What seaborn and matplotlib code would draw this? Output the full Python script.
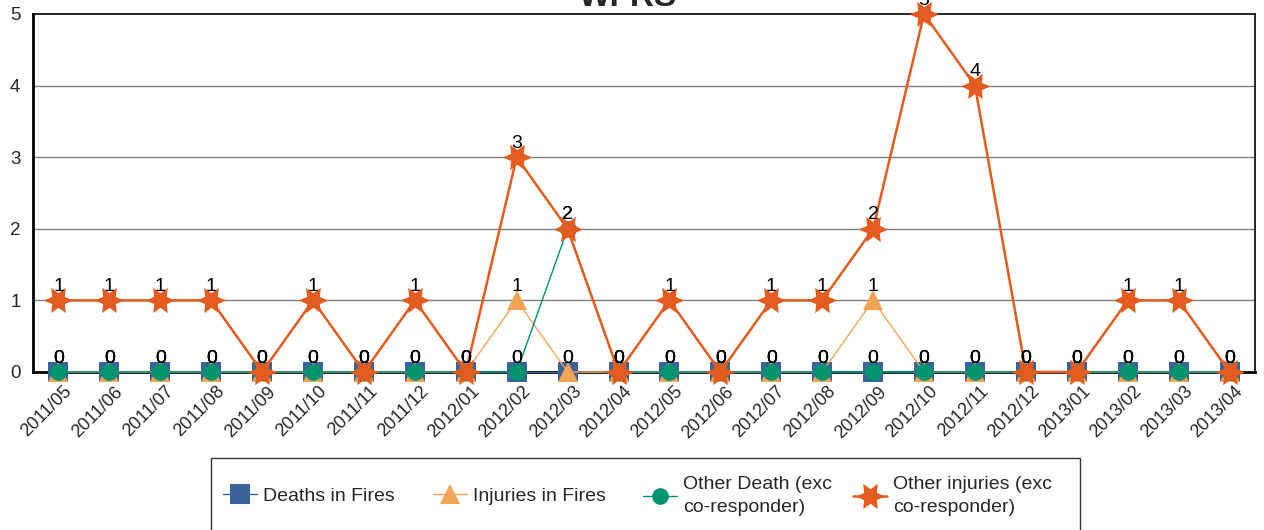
import matplotlib
matplotlib.use("Agg")
import matplotlib.pyplot as plt
import matplotlib.transforms as mtransforms
from matplotlib.patches import Rectangle
from matplotlib.lines import Line2D
import seaborn as sns

months = ["2011/05", "2011/06", "2011/07", "2011/08", "2011/09", "2011/10", "2011/11", "2011/12",
          "2012/01", "2012/02", "2012/03", "2012/04", "2012/05", "2012/06", "2012/07", "2012/08",
          "2012/09", "2012/10", "2012/11", "2012/12", "2013/01", "2013/02", "2013/03", "2013/04"]
deaths_in_fires = [0] * 24
injuries_in_fires = [0, 0, 0, 0, 0, 0, 0, 0, 0, 1, 0, 0, 0, 0, 0, 0, 1, 0, 0, 0, 0, 0, 0, 0]
other_death = [0, 0, 0, 0, 0, 0, 0, 0, 0, 0, 2, 0, 0, 0, 0, 0, 0, 0, 0, 0, 0, 0, 0, 0]
other_injuries = [1, 1, 1, 1, 0, 1, 0, 1, 0, 3, 2, 0, 1, 0, 1, 1, 2, 5, 4, 0, 0, 1, 1, 0]
series_names = ["Deaths in Fires", "Injuries in Fires",
                "Other Death (exc\nco-responder)", "Other injuries (exc\nco-responder)"]
title = "WFRS"

sns.set_theme(style="white")
plt.rcParams["font.family"] = ["Liberation Sans", "DejaVu Sans"]

fig = plt.figure(figsize=(12.64, 5.30), dpi=100)
W, H = 1264, 530
left, right, top, bottom = 33, 1255, 14, 372
ax = fig.add_axes([left / W, 1 - bottom / H, (right - left) / W, (bottom - top) / H])

styles = [
    dict(color="#3A6399", marker="s", markersize=14.5, linewidth=1.0),
    dict(color="#F2A354", marker="^", markersize=14, linewidth=1.0),
    dict(color="#00946F", marker="o", markersize=12, linewidth=1.0),
    dict(color="#E35B1E", marker=(6, 1, 30), markersize=21, linewidth=1.8),
]
data = [deaths_in_fires, injuries_in_fires, other_death, other_injuries]

handles = []
for name, vals, st in zip(series_names, data, styles):
    sns.lineplot(x=months, y=vals, ax=ax, sort=False, color=st["color"],
                 linewidth=st["linewidth"], marker=st["marker"], markersize=st["markersize"],
                 markeredgewidth=0, markerfacecolor=st["color"], zorder=3, clip_on=False)
    handles.append(Line2D([], [], color=st["color"], linewidth=st["linewidth"], marker=st["marker"],
                          markersize=st["markersize"], markeredgewidth=0))

for vals in data:
    for i, v in enumerate(vals):
        ax.annotate(str(v), (i, v), xytext=(0, 10), textcoords="offset points",
                    ha="center", va="center", fontsize=14, color="black", zorder=5,
                    annotation_clip=False)

ax.set_xlim(-0.5, len(months) - 0.5)
ax.set_ylim(0, 5)
ax.set_yticks([0, 1, 2, 3, 4, 5])
ax.set_yticklabels(["0", "1", "2", "3", "4", "5"], fontsize=13.5)
ax.set_xticks(range(len(months)))
ax.set_xticklabels(months, rotation=45, ha="right", rotation_mode="anchor", fontsize=13)
ax.tick_params(axis="both", length=0)
ax.tick_params(axis="y", pad=9)
ax.tick_params(axis="x", pad=8)
shift = mtransforms.ScaledTranslation(5 / 100, 0, fig.dpi_scale_trans)
for lbl in ax.get_xticklabels():
    lbl.set_transform(lbl.get_transform() + shift)
ax.set_xlabel("")
ax.set_ylabel("")
for y in [1, 2, 3, 4]:
    ax.axhline(y, color="#7f7f7f", linewidth=1.0, zorder=1)

for s in ["left", "bottom"]:
    ax.spines[s].set_linewidth(2.0)
    ax.spines[s].set_color("black")
for s in ["top", "right"]:
    ax.spines[s].set_linewidth(1.2)
    ax.spines[s].set_color("black")

fig.text(628 / W, 1 - 6 / H, title, ha="center", va="baseline", fontsize=24, fontweight="bold")

fig.add_artist(Rectangle((211 / W, 1 - 545 / H), (1080 - 211) / W, (545 - 458) / H,
                         transform=fig.transFigure, facecolor="white", edgecolor="#333333",
                         linewidth=1.0))
entry_x = [223, 433, 643, 853]
for h, name, x0 in zip(handles, series_names, entry_x):
    lg = fig.legend([h], [name], loc="center left", bbox_to_anchor=(x0 / W, 1 - 496 / H),
                    frameon=False, fontsize=14, handlelength=1.75, handletextpad=0.3,
                    borderpad=0, borderaxespad=0, labelspacing=0,
                    prop={"size": 14})
    for t in lg.get_texts():
        t.set_linespacing(1.45)

fig.savefig("out.png", dpi=100)
